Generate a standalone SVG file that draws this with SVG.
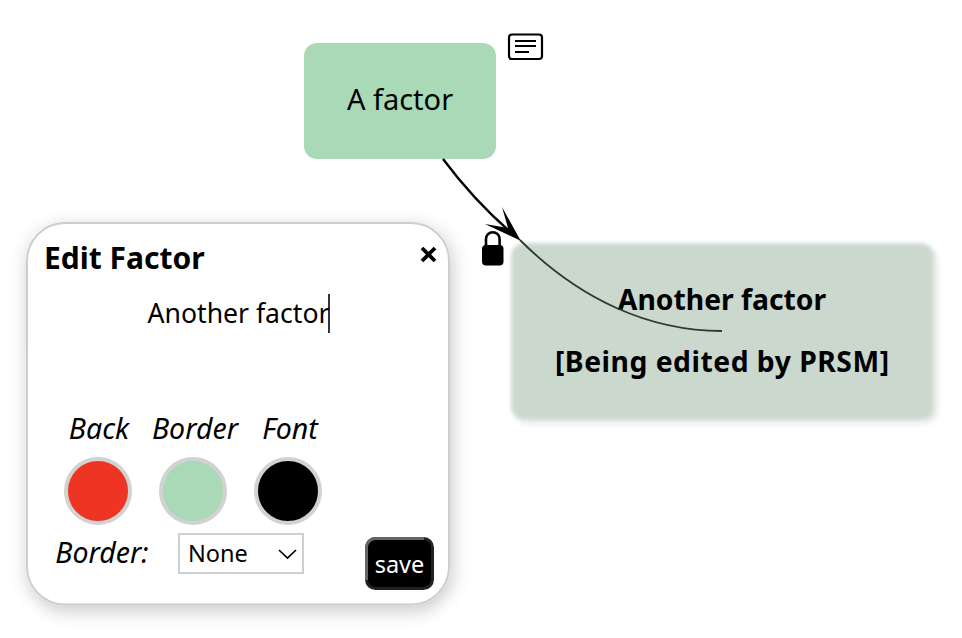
<svg xmlns="http://www.w3.org/2000/svg" width="962" height="638" viewBox="0 0 962 638">
<style>
text{font-family:"Noto Sans","Open Sans","Liberation Sans",sans-serif;fill:#000}
.it{font-style:italic;font-size:28.500px;text-anchor:middle}
.sw{stroke:#d2d2d2;stroke-width:4}
</style>
<defs>
<filter id="panelShadow" x="-15%" y="-15%" width="130%" height="130%"><feDropShadow dx="2" dy="5" stdDeviation="9" flood-color="#000" flood-opacity="0.22"/></filter>
<filter id="nodeShadow" x="-10%" y="-15%" width="120%" height="130%"><feGaussianBlur stdDeviation="2.200" result="b"/><feOffset in="SourceAlpha" dx="3" dy="3"/><feGaussianBlur stdDeviation="3"/><feComponentTransfer><feFuncA type="linear" slope="0.2"/></feComponentTransfer><feMerge><feMergeNode/><feMergeNode in="b"/></feMerge></filter>
</defs>
<rect width="962" height="638" fill="#fff"/>
<g id="node-a-factor">
<rect x="304" y="43" width="192" height="116" rx="13" fill="#a9d9b7"/>
<text x="400" y="110" font-size="29" text-anchor="middle">A factor</text>
</g>
<g id="note-icon" fill="none" stroke="#000">
<rect x="509" y="34.500" width="33" height="24.500" rx="3" stroke-width="2.200"/>
<path d="M515 41H536M515 46H536M515 52H529" stroke-width="1.800"/>
</g>
<g id="node-another-factor">
<rect x="511.500" y="243.500" width="421.500" height="175.500" rx="12" fill="#cbd8ce" filter="url(#nodeShadow)"/>
<text x="722" y="310" font-size="28.300" font-weight="700" text-anchor="middle">Another factor</text>
<text x="722" y="372" font-size="28.300" font-weight="700" text-anchor="middle" textLength="334">[Being edited by PRSM]</text>
</g>
<g id="connectors" fill="none">
<path d="M443 159C464 187 488 213 514 235" stroke="#000" stroke-width="2.400"/>
<path d="M520 240C580 300 650 331 722 331" stroke="#2c3a30" stroke-width="1.800"/>
<path d="M520.700 240.700L485 224L508 228L502 207Z" fill="#000"/>
</g>
<g id="lock-icon">
<path d="M486 248V239a6.800 6.800 0 0 1 13.600 0V248" fill="none" stroke="#000" stroke-width="2.600"/>
<rect x="482" y="245" width="21.500" height="20.500" rx="4" fill="#000"/>
</g>
<g id="edit-panel">
<rect x="27" y="223" width="422" height="381.500" rx="38" fill="#fff" stroke="#cdcdcd" stroke-width="2" filter="url(#panelShadow)"/>
<text x="44" y="269" font-size="30" font-weight="700">Edit Factor</text>
<path d="M422 248L435 261M435 248L422 261" stroke="#000" stroke-width="3.800" fill="none"/>
<text x="238.500" y="323" font-size="26.600" text-anchor="middle">Another factor</text>
<path d="M329 294V333" stroke="#000" stroke-width="1.600"/>
<text class="it" x="99" y="439">Back</text>
<text class="it" x="195" y="439">Border</text>
<text class="it" x="290" y="439">Font</text>
<circle class="sw" cx="98" cy="491" r="32" fill="#ee3524"/>
<circle class="sw" cx="193" cy="491" r="32" fill="#a9d9b7"/>
<circle class="sw" cx="288" cy="491" r="32" fill="#000"/>
<text class="it" x="102" y="563">Border:</text>
<rect x="179" y="534" width="124" height="39" fill="#fff" stroke="#cfcfcf" stroke-width="2"/>
<text x="188" y="562" font-size="23.500">None</text>
<path d="M279 550L287.500 558L296 550" fill="none" stroke="#000" stroke-width="1.700"/>
<rect x="366.500" y="538.500" width="66" height="50" rx="9" fill="#000" stroke="#222" stroke-width="3"/>
<path d="M366.500 580V547.500a9 9 0 0 1 9 -9H424" fill="none" stroke="#666" stroke-width="3"/>
<text x="399.500" y="572.500" font-size="23.500" text-anchor="middle" style="fill:#fff">save</text>
</g>
</svg>
